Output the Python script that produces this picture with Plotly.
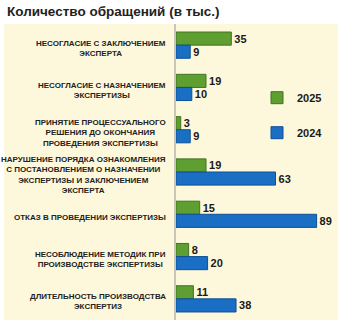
import plotly.graph_objects as go

categories = [
    "НЕСОГЛАСИЕ С ЗАКЛЮЧЕНИЕМ<br>ЭКСПЕРТА",
    "НЕСОГЛАСИЕ С НАЗНАЧЕНИЕМ<br>ЭКСПЕРТИЗЫ",
    "ПРИНЯТИЕ ПРОЦЕССУАЛЬНОГО<br>РЕШЕНИЯ ДО ОКОНЧАНИЯ<br>ПРОВЕДЕНИЯ ЭКСПЕРТИЗЫ",
    "НАРУШЕНИЕ ПОРЯДКА ОЗНАКОМЛЕНИЯ<br>С ПОСТАНОВЛЕНИЕМ О НАЗНАЧЕНИИ<br>ЭКСПЕРТИЗЫ И ЗАКЛЮЧЕНИЕМ<br>ЭКСПЕРТА",
    "ОТКАЗ В ПРОВЕДЕНИИ ЭКСПЕРТИЗЫ",
    "НЕСОБЛЮДЕНИЕ МЕТОДИК ПРИ<br>ПРОИЗВОДСТВЕ ЭКСПЕРТИЗЫ",
    "ДЛИТЕЛЬНОСТЬ ПРОИЗВОДСТВА<br>ЭКСПЕРТИЗ",
]
values_2025 = [35, 19, 3, 19, 15, 8, 11]
values_2024 = [9, 10, 9, 63, 89, 20, 38]
title_text = "Количество обращений (в тыс.)"

W, H = 338, 320
L, R, T, B = 176, 0, 24, 0
plot_w = W - L - R
cream = "#fdf8dc"
font = "Liberation Sans, Arial, sans-serif"

fig = go.Figure()
fig.add_trace(go.Bar(
    y=categories, x=values_2025, name="<b>2025</b>", orientation="h",
    marker=dict(color="#5f9e31", line=dict(color="#3f7420", width=1)),
    text=values_2025, texttemplate="<b>%{text}</b>", textposition="outside",
    cliponaxis=False,
    textfont=dict(family=font, size=11, color="#1a1a1a"),
    legendgroup="a",
))
fig.add_trace(go.Bar(
    y=categories, x=values_2024, name="<b>2024</b>", orientation="h",
    marker=dict(color="#1a6fc4", line=dict(color="#0d4f96", width=1)),
    text=values_2024, texttemplate="<b>%{text}</b>", textposition="outside",
    cliponaxis=False,
    textfont=dict(family=font, size=11, color="#1a1a1a"),
    legendgroup="b",
))

# cream panel covering label area and plot area
fig.add_shape(type="rect", xref="paper", yref="paper",
              x0=-(L - 4) / plot_w, x1=1, y0=0, y1=1,
              fillcolor=cream, line=dict(width=0), layer="below")

for c in categories:
    fig.add_annotation(x=0, xref="paper", y=c, yref="y", text="<b>" + c + "</b>",
                       xanchor="right", xshift=-8, yshift=-3, align="center",
                       showarrow=False,
                       font=dict(family=font, size=8, color="#222222"))

fig.add_annotation(x=-(L - 5) / plot_w, xref="paper", y=1, yref="paper",
                   yshift=3, yanchor="bottom", xanchor="left",
                   text="<b>" + title_text + "</b>", showarrow=False,
                   font=dict(family=font, size=13.5, color="#222222"))

fig.update_layout(
    width=W, height=H,
    margin=dict(l=L, r=R, t=T, b=B),
    paper_bgcolor="white", plot_bgcolor=cream,
    barmode="group", bargap=0.38, bargroupgap=0,
    showlegend=True,
    legend=dict(x=0.50, y=0.80, xanchor="left", yanchor="top",
                bgcolor="rgba(0,0,0,0)", tracegroupgap=16,
                font=dict(family=font, size=11, color="#1a1a1a")),
    xaxis=dict(range=[0, plot_w / 1.58], visible=False, fixedrange=True),
    yaxis=dict(autorange="reversed", showticklabels=False, showline=True,
               linecolor="#c9c6b8", linewidth=2, ticks="", showgrid=False),
)

fig.write_html("out.html")
